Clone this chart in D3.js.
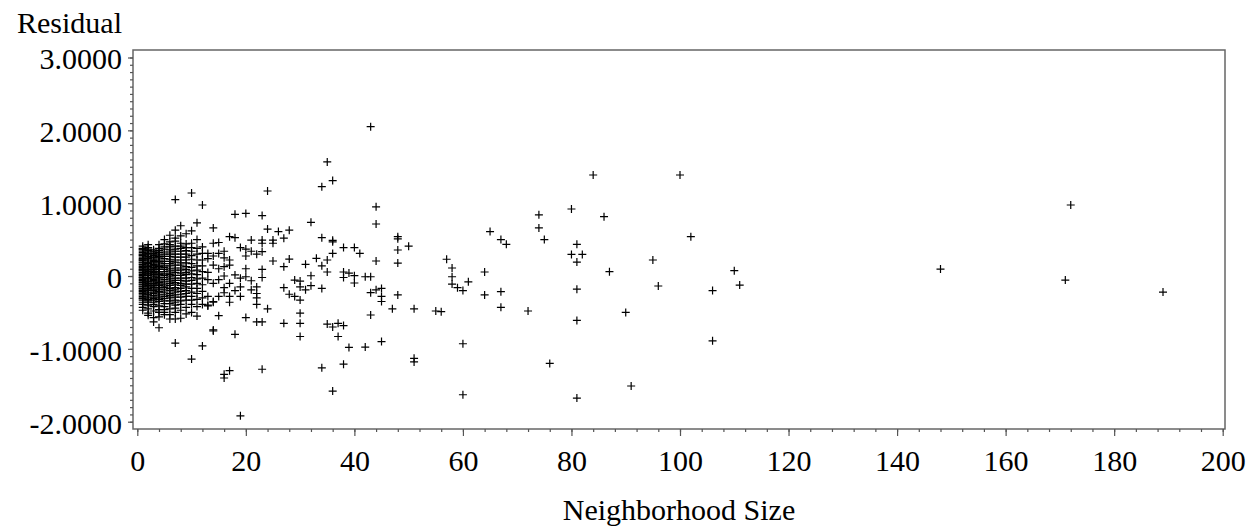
<!DOCTYPE html>
<html>
<head>
<meta charset="utf-8">
<script src="https://cdn.jsdelivr.net/npm/d3@7"></script>
<style>
  html, body { margin: 0; padding: 0; background: #fff; }
  svg { display: block; }
  svg text { font-family: "Liberation Serif", "Times New Roman", serif; fill: #000; }
</style>
</head>
<body>
<div id="chart"></div>
<script>
// Residual vs neighborhood size (SAS style scatter, plus markers)

// dense columns at small neighborhood sizes: residuals per size
const clusterSizes = [1, 2, 3, 4, 5, 6, 7, 8, 9, 10, 11, 12];
const clusterResiduals = [
  [0.41, 0.38, 0.37, 0.36, 0.34, 0.32, 0.30, 0.29, 0.28, 0.26, 0.24, 0.23, 0.22, 0.21, 0.19, 0.18, 0.16, 0.15, 0.13, 0.12, 0.10, 0.09, 0.08, 0.07, 0.05, 0.04, 0.02, 0.01,
   -0.01, -0.02, -0.03, -0.05, -0.06, -0.08, -0.09, -0.11, -0.12, -0.14, -0.15, -0.17, -0.18, -0.20, -0.21, -0.23, -0.24, -0.26, -0.28, -0.30, -0.31, -0.33, -0.36, -0.39, -0.43, -0.47],
  [0.43, 0.39, 0.37, 0.35, 0.33, 0.31, 0.30, 0.27, 0.25, 0.24, 0.22, 0.19, 0.18, 0.17, 0.14, 0.13, 0.11, 0.09, 0.08, 0.06, 0.04, 0.03, 0.01,
   -0.02, -0.03, -0.04, -0.07, -0.08, -0.10, -0.12, -0.13, -0.15, -0.17, -0.19, -0.20, -0.23, -0.25, -0.26, -0.29, -0.32, -0.34, -0.36, -0.40, -0.45, -0.51, -0.54],
  [0.36, 0.34, 0.33, 0.31, 0.30, 0.28, 0.26, 0.25, 0.23, 0.21, 0.20, 0.18, 0.16, 0.15, 0.14, 0.12, 0.10, 0.09, 0.08, 0.06, 0.05, 0.03, 0.02, 0.00, -0.01, -0.03, -0.05, -0.06,
   -0.08, -0.10, -0.11, -0.13, -0.15, -0.16, -0.18, -0.20, -0.22, -0.24, -0.27, -0.29, -0.31, -0.33, -0.36, -0.39, -0.42, -0.48, -0.57, -0.63],
  [0.43, 0.38, 0.35, 0.32, 0.29, 0.27, 0.25, 0.22, 0.20, 0.18, 0.15, 0.13, 0.11, 0.09, 0.06, 0.04, 0.02, 0.00, -0.02, -0.04, -0.07, -0.09, -0.11, -0.13,
   -0.16, -0.18, -0.21, -0.23, -0.26, -0.29, -0.32, -0.35, -0.41, -0.46, -0.50, -0.56, -0.71],
  [0.50, 0.44, 0.40, 0.37, 0.33, 0.30, 0.27, 0.24, 0.20, 0.17, 0.14, 0.12, 0.09, 0.06, 0.03, 0.01, -0.02, -0.05, -0.08, -0.11, -0.14, -0.16, -0.19,
   -0.22, -0.25, -0.28, -0.31, -0.34, -0.38, -0.42, -0.46, -0.50, -0.53],
  [0.56, 0.47, 0.43, 0.40, 0.36, 0.33, 0.30, 0.27, 0.23, 0.20, 0.17, 0.14, 0.10, 0.07, 0.04, 0.02, -0.01, -0.04, -0.07, -0.10, -0.13, -0.17, -0.20,
   -0.24, -0.27, -0.30, -0.34, -0.38, -0.45, -0.53, -0.59],
  [1.05, 0.63, 0.52, 0.48, 0.41, 0.37, 0.34, 0.30, 0.26, 0.22, 0.19, 0.15, 0.11, 0.08, 0.05, 0.01, -0.03, -0.06, -0.09, -0.12, -0.16, -0.19, -0.22, -0.26,
   -0.29, -0.33, -0.36, -0.40, -0.44, -0.50, -0.59, -0.92],
  [0.69, 0.55, 0.45, 0.41, 0.38, 0.34, 0.30, 0.26, 0.22, 0.18, 0.15, 0.11, 0.08, 0.04, 0.01, -0.03, -0.06, -0.10, -0.13, -0.17, -0.21, -0.25, -0.29, -0.34,
   -0.39, -0.47, -0.58],
  [0.58, 0.44, 0.39, 0.35, 0.30, 0.26, 0.22, 0.18, 0.13, 0.09, 0.05, 0.02, -0.03, -0.07, -0.11, -0.15, -0.20, -0.24, -0.28, -0.33, -0.43, -0.52],
  [1.14, 0.62, 0.45, 0.39, 0.34, 0.28, 0.23, 0.17, 0.12, 0.07, 0.03, -0.02, -0.06, -0.11, -0.17, -0.22, -0.28, -0.33, -0.39, -0.50, -1.14],
  [0.73, 0.50, 0.38, 0.30, 0.22, 0.14, 0.08, 0.02, -0.04, -0.10, -0.17, -0.24, -0.32, -0.42, -0.55],
  [0.975, 0.40, 0.31, 0.22, 0.14, 0.06, -0.03, -0.12, -0.21, -0.30, -0.39, -0.96]
];

// [neighborhood size, residual] for sizes 13..33
const midPoints = [
  [14, 0.66], [17, 0.54], [18, 0.526], [18, 0.847], [20, 0.86], [23, 0.83], [24, 1.167], [24, 0.645], [26, 0.61], [28, 0.63],
  [32, 0.737], [25, 0.494], [23, 0.494], [23, 0.45], [25, 0.45], [27, 0.52], [21, 0.494], [19, 0.39], [20, 0.37], [21, 0.34],
  [23, 0.334], [22, 0.30], [20, 0.275], [14, 0.45], [15, 0.46], [13, 0.31], [16, 0.34], [15, 0.31], [13, 0.24], [14, 0.275],
  [16, 0.25], [17, 0.22], [17, 0.15], [16, 0.128], [25, 0.206], [27, 0.128], [28, 0.233], [30, -0.07], [31, 0.16], [32, 0.004],
  [33, 0.243], [32, -0.133], [31, -0.19], [30, -0.15], [29, -0.055], [27, -0.16], [28, -0.25], [29, -0.28], [30, -0.33],
  [30, -0.51], [30, -0.65], [27, -0.65], [30, -0.83], [24, -0.45], [23, -0.63], [22, -0.63], [20, -0.57], [18, -0.8], [14, -0.755],
  [15, -0.545], [16, -1.4], [16, -1.35], [17, -1.3], [23, -1.28], [19, -1.92], [13, -0.41], [13, -0.28], [14, -0.36], [15, -0.28],
  [16, -0.23], [17, -0.28], [17, -0.36], [19, -0.28], [19, -0.15], [20, -0.01], [21, -0.065], [21, -0.19], [22, -0.15], [22, -0.24],
  [22, -0.3], [22, -0.39], [23, 0.09], [23, -0.02], [20, 0.1], [19, -0.03], [18, 0.015], [17, -0.1], [16, -0.16], [14, -0.1],
  [13, 0.05], [15, 0.1], [14, 0.15], [13, -0.05], [15, -0.05], [16, 0.0], [18, -0.2], [14, -0.74], [14, -0.35], [13, -0.4]
];

// sizes 34..76
const farPoints = [
  [43, 2.05], [35, 1.566], [36, 1.31], [34, 1.227], [44, 0.95], [44, 0.714], [34, 0.526], [36, 0.49], [36, 0.47], [38, 0.39],
  [40, 0.39], [41, 0.31], [36, 0.31], [35, 0.22], [34, 0.14], [35, 0.055], [38, 0.055], [38, -0.02], [39, 0.04], [40, 0.005],
  [40, -0.096], [42, -0.01], [43, -0.01], [44, 0.206], [48, 0.54], [48, 0.51], [48, 0.357], [50, 0.41], [48, 0.178], [34, -0.17],
  [43, -0.229], [44, -0.19], [45, -0.17], [45, -0.28], [45, -0.35], [48, -0.26], [47, -0.45], [51, -0.45], [55, -0.48], [56, -0.49],
  [43, -0.535], [35, -0.66], [36, -0.7], [37, -0.65], [38, -0.68], [37, -0.83], [39, -0.98], [42, -0.975], [45, -0.9], [34, -1.26],
  [38, -1.21], [51, -1.13], [51, -1.18], [36, -1.58], [60, -0.93], [60, -1.63], [57, 0.23], [58, 0.11], [58, -0.01], [58, -0.11],
  [59, -0.16], [60, -0.2], [61, -0.08], [64, 0.055], [64, -0.26], [65, 0.61], [67, 0.5], [68, 0.435], [67, -0.215], [67, -0.43],
  [72, -0.48], [74, 0.84], [74, 0.66], [75, 0.5], [76, -1.2]
];

// sizes 80 and up
const outerPoints = [
  [84, 1.387], [100, 1.387], [80, 0.92], [86, 0.815], [102, 0.54], [81, 0.435], [80, 0.297], [82, 0.297], [81, 0.192], [87, 0.06],
  [95, 0.22], [96, -0.137], [110, 0.073], [111, -0.124], [106, -0.2], [81, -0.18], [90, -0.5], [81, -0.61], [106, -0.89],
  [91, -1.51], [81, -1.676], [148, 0.096], [172, 0.975], [171, -0.055], [189, -0.22]
];

const xTicks = [0, 20, 40, 60, 80, 100, 120, 140, 160, 180, 200];
const yTicks = [-2, -1, 0, 1, 2, 3];

const width = 1251, height = 532;
const frame = { left: 133, right: 1225, top: 50, bottom: 429 };
const serif = '"Liberation Serif", "Times New Roman", serif';

const points = [];
clusterSizes.forEach((s, i) => clusterResiduals[i].forEach(r => points.push([s, r])));
midPoints.concat(farPoints, outerPoints).forEach(p => points.push(p));

const x = d3.scaleLinear().domain([0, 200]).range([137.3, 1222.7]);
const y = d3.scaleLinear().domain([-2, 3]).range([421.7, 57.5]);

const svg = d3.select('#chart').append('svg')
  .attr('width', width)
  .attr('height', height);

// plot frame
svg.append('rect')
  .attr('x', frame.left)
  .attr('y', frame.top)
  .attr('width', frame.right - frame.left)
  .attr('height', frame.bottom - frame.top)
  .attr('fill', 'none')
  .attr('stroke', '#666')
  .attr('stroke-width', 1.5);

// y axis: major + minor ticks
const yMinor = svg.append('g').attr('transform', `translate(${frame.left},0)`)
  .call(d3.axisLeft(y).tickValues(d3.range(-20, 31).map(v => v / 10)).tickSize(3).tickFormat(''));
const yMajor = svg.append('g').attr('transform', `translate(${frame.left},0)`)
  .call(d3.axisLeft(y).tickValues(yTicks).tickSize(5).tickPadding(6)
    .tickFormat(d => d === 0 ? '0' : d.toFixed(4)));

// x axis: major + minor ticks
const xMinor = svg.append('g').attr('transform', `translate(0,${frame.bottom})`)
  .call(d3.axisBottom(x).tickValues(d3.range(0, 201, 4)).tickSize(3).tickFormat(''));
const xMajor = svg.append('g').attr('transform', `translate(0,${frame.bottom})`)
  .call(d3.axisBottom(x).tickValues(xTicks).tickSize(7).tickPadding(14));

[yMinor, yMajor, xMinor, xMajor].forEach(g => {
  g.style('font-family', serif).attr('font-size', 30);
  g.select('.domain').remove();
  g.selectAll('line').attr('stroke', '#555').attr('stroke-width', 1.2);
  g.selectAll('text').style('font-family', serif).style('font-size', '30px').attr('fill', '#000');
});
yMajor.selectAll('text').attr('dy', '0.38em');
xMajor.selectAll('text').attr('dy', '0.71em');

// axis titles
svg.append('text')
  .attr('x', 17).attr('y', 33)
  .style('font-family', serif).style('font-size', '30px')
  .text('Residual');

svg.append('text')
  .attr('x', (frame.left + frame.right) / 2).attr('y', 520)
  .attr('text-anchor', 'middle')
  .style('font-family', serif).style('font-size', '30px')
  .text('Neighborhood Size');

// plus markers
const arm = 4;
svg.append('g')
  .attr('stroke', '#000')
  .attr('stroke-width', 1.2)
  .attr('fill', 'none')
  .selectAll('path')
  .data(points)
  .join('path')
  .attr('d', d => {
    const cx = x(d[0]), cy = y(d[1]);
    return `M${cx - arm},${cy}H${cx + arm}M${cx},${cy - arm}V${cy + arm}`;
  });
</script>
</body>
</html>
